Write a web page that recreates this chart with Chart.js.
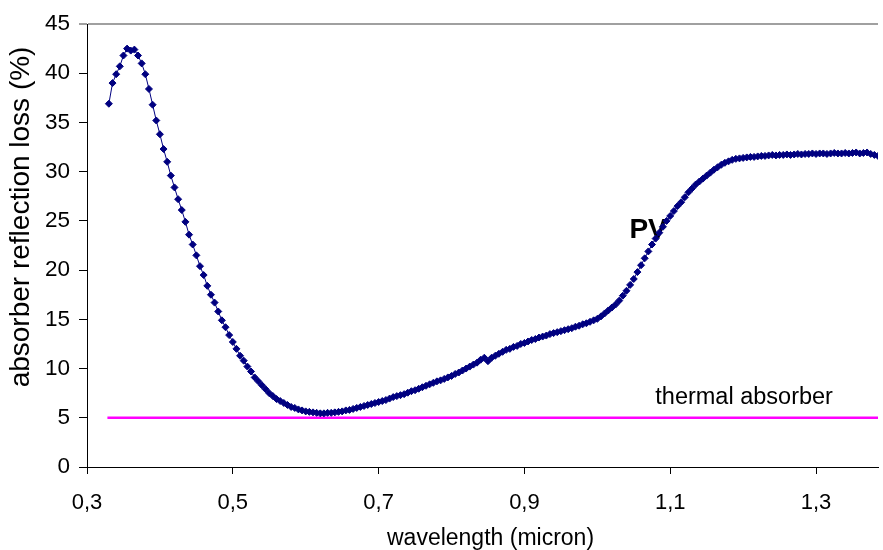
<!DOCTYPE html>
<html>
<head>
<meta charset="utf-8">
<script src="https://cdn.jsdelivr.net/npm/chart.js@4.4.1/dist/chart.umd.min.js"></script>
<style>
html,body{margin:0;padding:0;background:#fff;}
#wrap{width:883px;height:550px;}
</style>
</head>
<body>
<div id="wrap"><canvas id="chart"></canvas></div>
<script>
// wavelength (micron), sampled every 0.005
const wavelength = [
 0.330,0.335,0.340,0.345,0.350,0.355,0.360,0.365,0.370,0.375,0.380,0.385,0.390,0.395,0.400,0.405,0.410,0.415,0.420,0.425,
 0.430,0.435,0.440,0.445,0.450,0.455,0.460,0.465,0.470,0.475,0.480,0.485,0.490,0.495,0.500,0.505,0.510,0.515,0.520,0.525,
 0.530,0.535,0.540,0.545,0.550,0.555,0.560,0.565,0.570,0.575,0.580,0.585,0.590,0.595,0.600,0.605,0.610,0.615,0.620,0.625,
 0.630,0.635,0.640,0.645,0.650,0.655,0.660,0.665,0.670,0.675,0.680,0.685,0.690,0.695,0.700,0.705,0.710,0.715,0.720,0.725,
 0.730,0.735,0.740,0.745,0.750,0.755,0.760,0.765,0.770,0.775,0.780,0.785,0.790,0.795,0.800,0.805,0.810,0.815,0.820,0.825,
 0.830,0.835,0.840,0.845,0.850,0.855,0.860,0.865,0.870,0.875,0.880,0.885,0.890,0.895,0.900,0.905,0.910,0.915,0.920,0.925,
 0.930,0.935,0.940,0.945,0.950,0.955,0.960,0.965,0.970,0.975,0.980,0.985,0.990,0.995,1.000,1.005,1.010,1.015,1.020,1.025,
 1.030,1.035,1.040,1.045,1.050,1.055,1.060,1.065,1.070,1.075,1.080,1.085,1.090,1.095,1.100,1.105,1.110,1.115,1.120,1.125,
 1.130,1.135,1.140,1.145,1.150,1.155,1.160,1.165,1.170,1.175,1.180,1.185,1.190,1.195,1.200,1.205,1.210,1.215,1.220,1.225,
 1.230,1.235,1.240,1.245,1.250,1.255,1.260,1.265,1.270,1.275,1.280,1.285,1.290,1.295,1.300,1.305,1.310,1.315,1.320,1.325,
 1.330,1.335,1.340,1.345,1.350,1.355,1.360,1.365,1.370,1.375,1.380,1.385
];
// PV absorber reflection loss (%)
const reflectionLoss = [
 36.9,39.0,39.9,40.7,41.8,42.5,42.3,42.4,41.8,41.0,39.9,38.4,36.8,35.2,33.8,32.3,31.0,29.6,28.4,27.2,
 26.1,24.9,23.6,22.6,21.5,20.4,19.5,18.4,17.5,16.7,15.8,14.9,14.2,13.4,12.7,12.0,11.3,10.8,10.2,9.7,
 9.1,8.7,8.3,7.9,7.5,7.2,6.9,6.7,6.5,6.3,6.1,6.0,5.85,5.75,5.65,5.6,5.55,5.5,5.45,5.45,
 5.5,5.5,5.55,5.6,5.65,5.75,5.8,5.9,6.0,6.1,6.2,6.3,6.4,6.5,6.6,6.7,6.8,6.95,7.1,7.2,
 7.3,7.4,7.55,7.7,7.8,7.95,8.1,8.25,8.4,8.55,8.7,8.8,8.95,9.1,9.25,9.45,9.6,9.8,10.0,10.2,
 10.4,10.6,10.9,11.1,10.75,11.1,11.3,11.5,11.7,11.9,12.0,12.2,12.3,12.5,12.6,12.75,12.9,13.0,13.15,13.25,
 13.35,13.5,13.6,13.7,13.8,13.9,14.0,14.1,14.25,14.35,14.5,14.6,14.75,14.9,15.05,15.3,15.6,15.9,16.2,16.5,
 16.9,17.4,17.9,18.5,19.1,19.8,20.5,21.2,21.9,22.6,23.2,23.8,24.4,25.0,25.5,26.0,26.5,26.9,27.4,27.9,
 28.3,28.7,29.0,29.3,29.6,29.9,30.2,30.45,30.7,30.9,31.05,31.2,31.3,31.35,31.4,31.45,31.5,31.5,31.55,31.6,
 31.6,31.65,31.7,31.65,31.7,31.7,31.75,31.7,31.75,31.8,31.75,31.8,31.8,31.85,31.8,31.85,31.85,31.8,31.85,31.9,
 31.85,31.85,31.9,31.85,31.9,31.95,31.85,31.9,31.95,31.8,31.7,31.6
];
// thermal absorber level
const thermalX = [0.328, 1.385];
const thermalY = [5, 5];

const xTicks = [0.3, 0.5, 0.7, 0.9, 1.1, 1.3];
const notes = [
  {text: 'PV', x: 1.044, y: 23.3, weight: 'bold', size: 28, align: 'left'},
  {text: 'thermal absorber', x: 1.0795, y: 6.4, weight: 'normal', size: 23.5, align: 'left'},
  {text: 'wavelength (micron)', x: 0.8535, y: -7.95, weight: 'normal', size: 23, align: 'center'}
];
const yTitle = {text: 'absorber reflection loss (%)', left: 21, y: 25.4, size: 28};

const FONT = '"Liberation Sans", Arial, sans-serif';

function toPoints(xs, ys) {
  return xs.map((v, i) => ({x: v, y: ys[i]}));
}

const notesPlugin = {
  id: 'notes',
  beforeDatasetsDraw(chart) {
    const ctx = chart.ctx, x = chart.scales.x, y = chart.scales.y;
    ctx.save();
    ctx.fillStyle = '#000';
    ctx.textBaseline = 'alphabetic';
    notes.forEach(n => {
      ctx.font = n.weight + ' ' + n.size + 'px ' + FONT;
      ctx.textAlign = n.align;
      ctx.fillText(n.text, x.getPixelForValue(n.x), y.getPixelForValue(n.y));
    });
    // rotated y-axis title
    ctx.translate(yTitle.left, y.getPixelForValue(yTitle.y));
    ctx.rotate(-Math.PI / 2);
    ctx.font = yTitle.size + 'px ' + FONT;
    ctx.textAlign = 'center';
    ctx.textBaseline = 'middle';
    ctx.fillText(yTitle.text, 0, 0);
    ctx.restore();
  }
};

const ctx = document.getElementById('chart');
new Chart(ctx, {
  type: 'line',
  data: {
    datasets: [
      {
        label: 'PV',
        data: toPoints(wavelength, reflectionLoss),
        borderColor: '#000080',
        backgroundColor: '#000080',
        borderWidth: 1,
        pointStyle: 'rectRot',
        pointRadius: 3.5,
        pointBorderWidth: 1,
        tension: 0
      },
      {
        label: 'thermal absorber',
        data: toPoints(thermalX, thermalY),
        borderColor: '#ff00ff',
        borderWidth: 2.5,
        pointRadius: 0
      }
    ]
  },
  options: {
    responsive: true,
    maintainAspectRatio: false,
    animation: false,
    layout: {padding: {top: 24, right: 0, bottom: 0, left: 0}},
    plugins: {legend: {display: false}, tooltip: {enabled: false}},
    scales: {
      x: {
        type: 'linear',
        min: 0.3,
        max: 1.385,
        afterBuildTicks: axis => { axis.ticks = xTicks.map(v => ({value: v})); },
        afterFit: s => { s.height = 83; },
        border: {color: '#000', width: 1},
        grid: {drawOnChartArea: false, tickLength: 7, tickColor: '#000'},
        ticks: {
          color: '#000',
          font: {family: FONT, size: 22},
          padding: 16,
          maxRotation: 0,
          callback: v => v.toFixed(1).replace('.', ',')
        }
      },
      y: {
        min: 0,
        max: 45,
        afterFit: s => { s.width = 87; },
        border: {color: '#000', width: 1},
        grid: {
          tickLength: 8,
          color: c => c.tick && c.tick.value === 45 ? '#a0a0a0' : 'rgba(0,0,0,0)',
          tickColor: c => c.tick && c.tick.value === 45 ? '#a0a0a0' : '#000',
          lineWidth: c => c.tick && c.tick.value === 45 ? 2 : 1
        },
        ticks: {
          stepSize: 5,
          color: '#000',
          font: {family: FONT, size: 22.5},
          padding: 9
        }
      }
    }
  },
  plugins: [notesPlugin]
});
</script>
</body>
</html>
